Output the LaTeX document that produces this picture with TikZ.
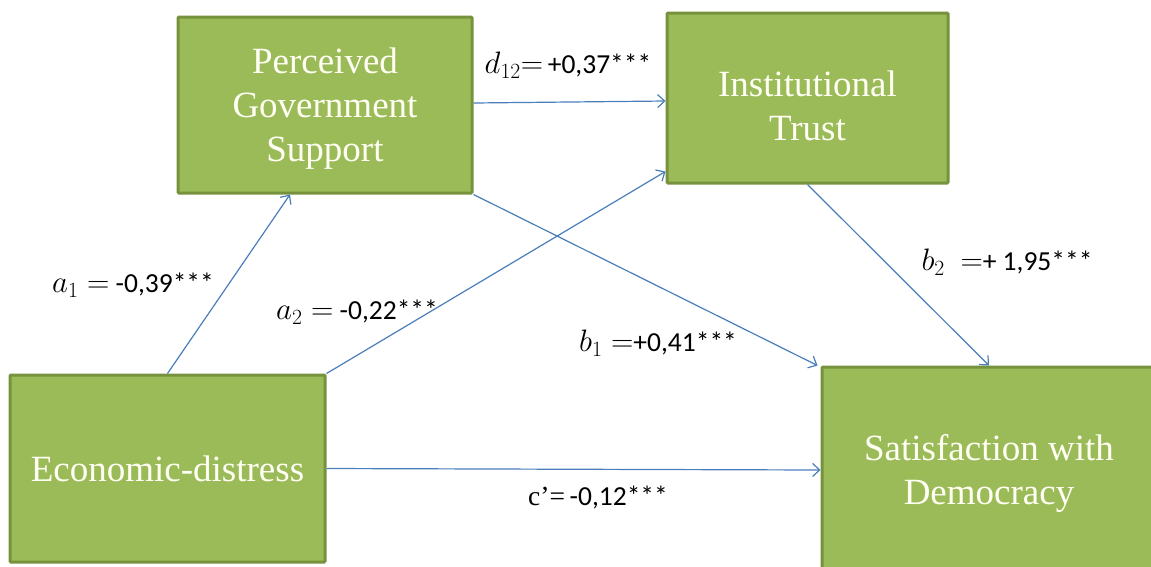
\RequirePackage{fix-cm}
\documentclass[tikz,border=0pt]{standalone}
\usepackage{fontspec}
\setmainfont{Liberation Serif}
\newfontfamily\lblfont{Carlito}
\usetikzlibrary{arrows.meta}
\definecolor{boxfill}{HTML}{9BBB59}
\definecolor{boxline}{HTML}{76923C}
\definecolor{arrowblue}{HTML}{4A7EBB}
\definecolor{boxtextcol}{HTML}{FFFFF4}
\newcommand{\mth}[1]{{\fontsize{31}{34}\selectfont$#1$}}
\tikzset{
  varbox/.style={draw=boxline, fill=boxfill, line width=3pt, rounded corners=1pt, inner sep=0pt},
  boxtext/.style={text=boxtextcol, align=center, inner sep=0pt,
    font=\fontsize{37}{44}\selectfont},
  path/.style={draw=arrowblue, line width=1.2pt, -{Straight Barb[length=7pt,width=13pt,line width=1.2pt]}},
  lbl/.style={inner sep=0pt, font=\fontsize{27.5}{30}\selectfont\lblfont}
}
\begin{document}
\begin{tikzpicture}[x=1pt,y=-1pt]
\useasboundingbox (0,0) rectangle (1151,566);
\node[varbox, minimum width=294pt, minimum height=176pt,
  label={[boxtext, yshift=-4pt]center:Perceived\\Government\\Support}] (pgs) at (325,105) {};
\node[varbox, minimum width=281pt, minimum height=170pt,
  label={[boxtext, yshift=-8pt]center:Institutional\\Trust}] (it) at (807.5,98) {};
\node[varbox, minimum width=315pt, minimum height=187pt,
  label={[boxtext]center:Economic-distress}] (ed) at (167.5,468.5) {};
\node[varbox, minimum width=334pt, minimum height=206pt,
  label={[boxtext, yshift=-3pt]center:Satisfaction with\\Democracy}] (sd) at (989,470) {};

\draw[path] (ed.north) -- ([xshift=-35pt]pgs.south);
\draw[path] (ed.north east) -- ([yshift=13pt]it.south west);
\draw[path] ([yshift=2pt]pgs.east) -- ([yshift=-3pt]it.west);
\draw[path] (pgs.south east) -- ([xshift=-3pt]sd.north west);
\draw[path] (it.south) -- (sd.north);
\draw[path] (ed.east) -- (sd.west);

\node[lbl] (la1) at (133,285) {\mth{a_1 =} -0,39***};
\node[lbl] (la2) at (357,312) {\mth{a_2 =} -0,22***};
\node[lbl] (ld12) at (568,65) {\mth{d_{12}{=}}\,+0,37***};
\node[lbl] (lb1) at (658,343) {\mth{b_1 =}+0,41***};
\node[lbl] (lb2) at (1007,262) {\mth{b_2\ =}+ 1,95***};
\node[lbl] (lc) at (598,497) {{\rmfamily c’=}\,-0,12***};
\end{tikzpicture}
\end{document}
